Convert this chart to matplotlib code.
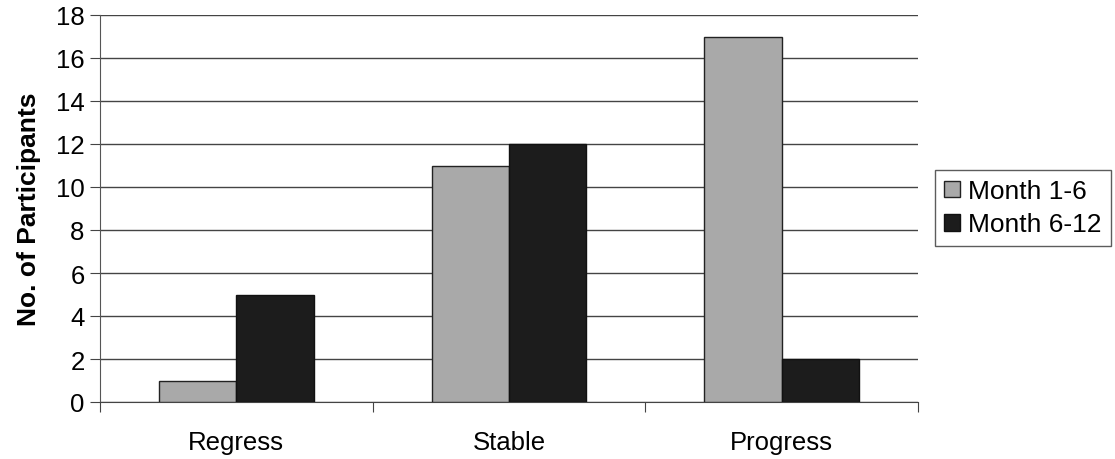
import matplotlib
matplotlib.use("Agg")
import matplotlib.pyplot as plt
import numpy as np

categories = ["Regress", "Stable", "Progress"]
month_1_6 = [1, 11, 17]
month_6_12 = [5, 12, 2]
series_labels = ["Month 1-6", "Month 6-12"]

plt.rcParams['font.family'] = ['Liberation Sans', 'DejaVu Sans']

fig = plt.figure(figsize=(11.15, 4.6), dpi=100)
ax = fig.add_axes([100/1115, 1-403/460, (918-100)/1115, (403-16)/460])

x = np.arange(len(categories)) + 0.5
w = 0.284
b1 = ax.bar(x - w/2, month_1_6, w, color="#a9a9a9", edgecolor="#222222", linewidth=1.0, label=series_labels[0], zorder=3)
b2 = ax.bar(x + w/2, month_6_12, w, color="#1c1c1c", edgecolor="#111111", linewidth=1.0, label=series_labels[1], zorder=3)

ax.set_xlim(0, 3)
ax.set_ylim(0, 18)
ax.set_yticks(np.arange(0, 19, 2))
ax.yaxis.grid(True, color="#444444", linewidth=1.0, zorder=0)
ax.set_axisbelow(True)

ax.set_xticks([0, 1, 2, 3])
ax.set_xticklabels([])
ax.set_xticks(x, minor=True)
ax.set_xticklabels(categories, minor=True)
ax.tick_params(axis='x', which='major', length=7, direction='out', color="#444444")
ax.tick_params(axis='x', which='minor', length=0, pad=20, labelsize=18.5)
ax.tick_params(axis='y', length=7, direction='out', color="#444444", labelsize=18.5, pad=4)

for s in ["top", "right"]:
    ax.spines[s].set_visible(False)
ax.spines["left"].set_color("#555555")
ax.spines["bottom"].set_color("#444444")

ax.set_ylabel("No. of Participants", fontsize=19, fontweight="bold", labelpad=11)

leg = fig.legend(handles=[b1, b2], labels=series_labels,
                 loc="upper left", bbox_to_anchor=(935/1115, 1-171/460),
                 fontsize=19, frameon=True, fancybox=False, edgecolor="#333333",
                 handlelength=0.6, handleheight=0.6, handletextpad=0.3,
                 borderpad=0.35, labelspacing=0.35, borderaxespad=0)
leg.get_frame().set_linewidth(1.0)

fig.savefig("out.png", dpi=100, facecolor="white")
